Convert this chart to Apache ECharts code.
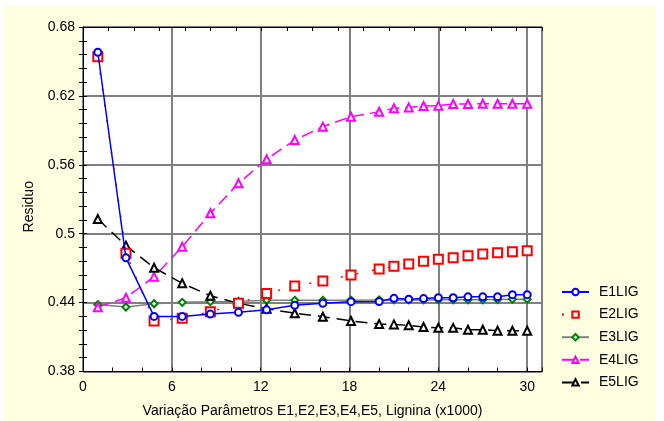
<!DOCTYPE html>
<html>
<head>
<meta charset="UTF-8">
<script src="https://cdn.jsdelivr.net/npm/echarts@6/dist/echarts.min.js"></script>
<style>
    body { margin: 0; background: #fff; }
    #residuo {
        position: absolute;
        left: 3px;
        top: 5px;
        width: 653px;
        height: 416px;
    }
</style>
</head>
<body>
<div id="residuo"></div>
<script type="text/javascript">
    // valores
    let xVals = [1, 2.9, 4.8, 6.7, 8.6, 10.5, 12.4, 14.3, 16.2, 18.1, 20, 21, 22, 23, 24, 25, 26, 27, 28, 29, 30];
    let E1LIG = [0.658, 0.479, 0.428, 0.428, 0.430, 0.4315, 0.4337, 0.4376, 0.4394, 0.4408, 0.441, 0.4437, 0.443, 0.4435, 0.4442, 0.4442, 0.445, 0.445, 0.445, 0.4469, 0.4469];
    let E2LIG = [0.654, 0.483, 0.424, 0.4263, 0.432, 0.4394, 0.448, 0.4544, 0.4588, 0.464, 0.4693, 0.4716, 0.4736, 0.476, 0.4777, 0.4791, 0.4808, 0.4823, 0.4834, 0.4843, 0.4852];
    let E3LIG = [0.4383, 0.4362, 0.439, 0.4402, 0.4408, 0.441, 0.442, 0.442, 0.442, 0.442, 0.4423, 0.4423, 0.4423, 0.4423, 0.4425, 0.4425, 0.4425, 0.4425, 0.4427, 0.443, 0.443];
    let E4LIG = [0.436, 0.4442, 0.4626, 0.4887, 0.5178, 0.5439, 0.5648, 0.5816, 0.5932, 0.6019, 0.6062, 0.6092, 0.610, 0.6112, 0.6115, 0.6129, 0.613, 0.6132, 0.6132, 0.6132, 0.6132];
    let E5LIG = [0.5128, 0.4896, 0.4704, 0.4568, 0.446, 0.4394, 0.4347, 0.4307, 0.4277, 0.424, 0.4213, 0.421, 0.4202, 0.4187, 0.4181, 0.418, 0.4164, 0.4164, 0.4155, 0.4155, 0.4155];
    let yTicks = [0.38, 0.44, 0.5, 0.56, 0.62, 0.68];

    let fonte = '"Liberation Sans", Arial, sans-serif';

    function pares(ys) {
        let out = [];
        for (let i = 0; i < xVals.length; i++) {
            out.push([xVals[i], ys[i]]);
        }
        return out;
    }

    let residuoChart = echarts.init(document.getElementById('residuo'));

    let option = {
        backgroundColor: '#FFFFE1',
        animation: false,
        textStyle: {fontFamily: fonte},
        grid: {
            left: 80,
            right: 114,
            top: 22,
            bottom: 49.5,
            outerBoundsMode: 'none',
            show: true,
            backgroundColor: '#fff',
            borderColor: '#000',
            borderWidth: 1
        },
        legend: {
            orient: 'vertical',
            left: 553,
            top: 275,
            itemWidth: 27,
            itemHeight: 8,
            itemGap: 8.6,
            textStyle: {fontSize: 14, color: '#000', fontFamily: fonte, padding: [0, 0, 0, 5]},
            data: ['E1LIG', 'E2LIG', 'E3LIG', 'E4LIG', 'E5LIG']
        },
        xAxis: [
            {
                // eixo de baixo: ticks a cada 2, rótulos a cada 6
                type: 'value',
                position: 'bottom',
                min: 0,
                max: 31,
                interval: 2,
                name: 'Variação Parâmetros E1,E2,E3,E4,E5, Lignina (x1000)',
                nameLocation: 'middle',
                nameGap: 33,
                nameTextStyle: {fontSize: 14, color: '#000', fontFamily: fonte},
                axisLine: {lineStyle: {color: '#000', width: 1}},
                axisTick: {inside: true, length: 4, lineStyle: {color: '#000'}},
                axisLabel: {
                    fontSize: 14, color: '#000', margin: 9, fontFamily: fonte,
                    formatter: function (v) {
                        return (v % 6 === 0 && v <= 30) ? String(v) : '';
                    }
                },
                splitLine: {show: false}
            },
            {
                // só as linhas de grade verticais
                type: 'value',
                position: 'bottom',
                min: 0,
                max: 31,
                interval: 6,
                axisLine: {show: false},
                axisTick: {show: false},
                axisLabel: {show: false},
                splitLine: {show: true, lineStyle: {color: '#808080', width: 2}}
            },
            {
                type: 'value',
                position: 'top',
                min: 0,
                max: 31,
                interval: 31 / 18,
                axisLine: {show: true, lineStyle: {color: '#000'}},
                axisTick: {inside: true, length: 4, lineStyle: {color: '#000'}},
                axisLabel: {show: false},
                splitLine: {show: false}
            }
        ],
        yAxis: [
            {
                type: 'value',
                position: 'left',
                min: yTicks[0],
                max: yTicks[yTicks.length - 1],
                interval: 0.06,
                name: 'Residuo',
                nameLocation: 'middle',
                nameGap: 47,
                nameTextStyle: {fontSize: 14, color: '#000', fontFamily: fonte, padding: [0, 0, 0, -15]},
                axisLine: {show: true, lineStyle: {color: '#000'}},
                axisTick: {inside: true, length: 4, lineStyle: {color: '#000'}},
                minorTick: {show: true, splitNumber: 5, length: 4, lineStyle: {color: '#000'}},
                axisLabel: {fontSize: 14, color: '#000', margin: 8, fontFamily: fonte},
                splitLine: {show: true, lineStyle: {color: '#808080', width: 2}}
            },
            {
                type: 'value',
                position: 'right',
                min: yTicks[0],
                max: yTicks[yTicks.length - 1],
                interval: 0.06,
                axisLine: {show: true, lineStyle: {color: '#000'}},
                axisTick: {inside: true, length: 4, lineStyle: {color: '#000'}},
                minorTick: {show: true, splitNumber: 5, length: 4, lineStyle: {color: '#000'}},
                axisLabel: {show: false},
                splitLine: {show: false}
            }
        ],
        series: [
            {
                name: 'E1LIG',
                type: 'line',
                data: pares(E1LIG),
                symbol: 'emptyCircle',
                symbolSize: 7,
                itemStyle: {color: '#0000FF', borderWidth: 1},
                lineStyle: {color: '#0000FF', width: 1.5},
                z: 5
            },
            {
                name: 'E2LIG',
                type: 'line',
                data: pares(E2LIG),
                symbol: 'emptyRect',
                symbolSize: 9,
                itemStyle: {color: '#FF0000', borderWidth: 1.5},
                lineStyle: {color: '#FF0000', width: 1.5, type: [2, 14]},
                z: 4
            },
            {
                name: 'E3LIG',
                type: 'line',
                data: pares(E3LIG),
                symbol: 'emptyDiamond',
                symbolSize: 7,
                itemStyle: {color: '#008000', borderWidth: 1.5},
                lineStyle: {color: '#808080', width: 1.5},
                z: 3
            },
            {
                name: 'E4LIG',
                type: 'line',
                data: pares(E4LIG),
                symbol: 'emptyTriangle',
                symbolSize: 8,
                itemStyle: {color: '#FF00FF', borderWidth: 1.5},
                lineStyle: {color: '#FF00FF', width: 1.5, type: [12, 6]},
                z: 3
            },
            {
                name: 'E5LIG',
                type: 'line',
                data: pares(E5LIG),
                symbol: 'emptyTriangle',
                symbolSize: 8,
                itemStyle: {color: '#000000', borderWidth: 1.5},
                lineStyle: {color: '#000000', width: 1.5, type: [12, 7]},
                z: 3
            }
        ]
    };
    residuoChart.setOption(option);
</script>
</body>
</html>
